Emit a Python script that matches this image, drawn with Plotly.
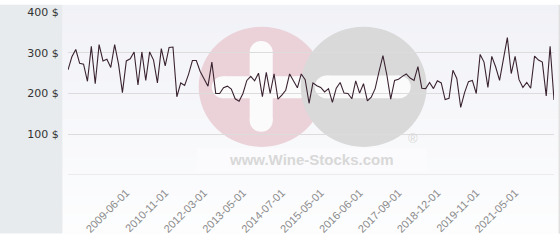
import plotly.graph_objects as go

# ---- data ----
prices = [
    258, 290, 308, 274, 272, 230, 316, 224, 320, 280,
    284, 264, 320, 272, 202, 280, 285, 302, 221, 302,
    232, 302, 282, 226, 310, 268, 313, 314, 192, 226,
    220, 247, 281, 281, 254, 234, 218, 277, 200, 200,
    214, 218, 211, 187, 181, 200, 232, 242, 231, 250,
    192, 252, 200, 248, 186, 196, 208, 248, 231, 214,
    248, 234, 176, 226, 219, 215, 204, 212, 178, 213,
    227, 201, 200, 187, 231, 201, 224, 182, 191, 212,
    254, 293, 246, 186, 232, 235, 242, 248, 238, 232,
    266, 213, 212, 227, 212, 231, 226, 185, 188, 257,
    237, 166, 202, 229, 232, 200, 296, 277, 215, 291,
    265, 232, 285, 337, 249, 291, 234, 215, 227, 213,
    292, 282, 277, 194, 316, 184,
]
tick_labels = ["2009-06-01", "2010-11-01", "2012-03-01", "2013-05-01",
               "2014-07-01", "2015-05-01", "2016-06-01", "2017-09-01",
               "2018-12-01", "2019-11-01", "2021-05-01"]
tick_index = [15, 25, 35, 45, 55, 65, 75, 85, 95, 105, 115]
y_ticks = [0, 100, 200, 300, 400]
y_ticktext = ["", "100 $", "200 $", "300 $", "400 $"]

x = list(range(len(prices)))

W, H = 560, 240
L, R, T, B = 68.3, 554.3, 7.5, 178.5

def px(xp):
    return (xp - L) / (R - L)

def py(yp):
    return (B - yp) / (B - T)

shapes = []
# left strip
shapes.append(dict(type="rect", xref="paper", yref="paper", x0=px(0), x1=px(63),
                   y0=py(H), y1=py(0), fillcolor="#e7ebee", line_width=0, layer="below"))
# gradient panel
n = 24
top = (241, 242, 247)
bot = (253, 253, 254)
for i in range(n):
    t = i / (n - 1)
    c = tuple(round(top[k] + (bot[k] - top[k]) * t) for k in range(3))
    y0p = H * i / n
    y1p = H * (i + 1) / n + 0.5
    shapes.append(dict(type="rect", xref="paper", yref="paper", x0=px(63), x1=px(559),
                       y0=py(y1p), y1=py(y0p), fillcolor="rgb(%d,%d,%d)" % c,
                       line_width=0, layer="below"))
# right border
shapes.append(dict(type="line", xref="paper", yref="paper", x0=px(559.5), x1=px(559.5),
                   y0=py(H), y1=py(0), line=dict(color="#d2d2d2", width=1), layer="below"))

def circle(cx, cy, r, color):
    return dict(type="circle", xref="paper", yref="paper", x0=px(cx - r), x1=px(cx + r),
                y0=py(cy + r), y1=py(cy - r), fillcolor=color, line_width=0, layer="below")

def rect(x0, y0, x1, y1, color):
    return dict(type="rect", xref="paper", yref="paper", x0=px(x0), x1=px(x1),
                y0=py(y1), y1=py(y0), fillcolor=color, line_width=0, layer="below")

def hbar(x0, x1, yc, h, color):
    r = h / 2
    return [rect(x0 + r, yc - r, x1 - r, yc + r, color),
            circle(x0 + r, yc, r, color), circle(x1 - r, yc, r, color)]

def vbar(xc, y0, y1, w, color):
    r = w / 2
    return [rect(xc - r, y0 + r, xc + r, y1 - r, color),
            circle(xc, y0 + r, r, color), circle(xc, y1 - r, r, color)]

# whitish box behind text
shapes.append(rect(197, 150, 427, 176, "rgba(255,255,255,0.3)"))
# pink circle with plus
shapes.append(circle(262, 86, 63, "#ebd2d9"))
shapes += vbar(261.5, 38, 133, 23, "#fbfbfc")
shapes += hbar(212, 311, 86.5, 23, "#fbfbfc")
# gray circle with minus
shapes.append(circle(364, 86, 63, "#d9d9da"))
shapes += hbar(315, 411, 86, 24, "#fbfbfc")
# baseline at zero
shapes.append(dict(type="line", xref="paper", yref="y", x0=0, x1=1, y0=0, y1=0,
                   line=dict(color="#dcdcdc", width=1), layer="below"))

annotations = [
    dict(text="<b>www.Wine-Stocks.com</b>", xref="paper", yref="paper", x=px(312), y=py(162),
         showarrow=False, font=dict(family="Liberation Sans", size=15, color="#d8d8d8"),
         xanchor="center", yanchor="middle"),
    dict(text="®", xref="paper", yref="paper", x=px(413), y=py(140),
         showarrow=False, font=dict(family="Liberation Sans", size=13, color="#d9d9d9"),
         xanchor="center", yanchor="middle"),
]

fig = go.Figure(go.Scatter(x=x, y=prices, mode="lines",
                           line=dict(color="#3a2330", width=1.1),
                           hoverinfo="skip", cliponaxis=False))

fig.update_layout(
    width=W, height=H,
    margin=dict(l=L, r=W - R, t=T, b=H - B, pad=0),
    paper_bgcolor="white", plot_bgcolor="rgba(0,0,0,0)",
    showlegend=False,
    shapes=shapes, annotations=annotations,
    xaxis=dict(range=[0, len(prices) - 1], tickmode="array", tickvals=tick_index,
               ticktext=tick_labels, tickangle=-45, showgrid=False, zeroline=False,
               showline=False, ticks="outside", ticklen=6, tickcolor="rgba(0,0,0,0)",
               tickfont=dict(family="Liberation Sans", size=11, color="#8a8a8a")),
    yaxis=dict(range=[0, 400], tickmode="array", tickvals=y_ticks, ticktext=y_ticktext,
               showgrid=True, gridcolor="#dcdcdc", gridwidth=1, zeroline=False,
               showline=False, ticks="outside", ticklen=6, tickcolor="rgba(0,0,0,0)",
               tickfont=dict(family="DejaVu Sans", size=11, color="#333333")),
)

fig.write_html("out.html")
